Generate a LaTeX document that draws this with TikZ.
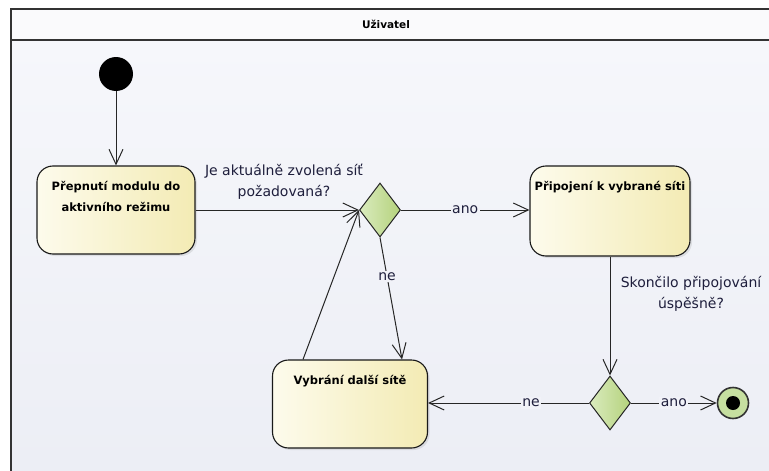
\documentclass[tikz,border=0pt]{standalone}
\usepackage{fontspec}
\setmainfont{DejaVu Sans}
\usetikzlibrary{arrows.meta,positioning,shapes.geometric,shadows}
\definecolor{laneTop}{HTML}{F6F7FB}
\definecolor{laneBot}{HTML}{ECEEF5}
\definecolor{laneHead}{HTML}{FAFAFC}
\definecolor{actL}{HTML}{FDFBEC}
\definecolor{actR}{HTML}{F3EBB4}
\definecolor{decL}{HTML}{DAEBBE}
\definecolor{decR}{HTML}{B4D27C}
\definecolor{finC}{HTML}{C6DFA0}
\definecolor{lblC}{HTML}{1E1E3C}
\tikzset{%
	lane/.style      = {line width=1.8pt, draw=black!80},
	lanetitle/.style = {font=\bfseries\fontsize{10.5}{12}\selectfont},
	initial/.style   = {circle, fill=black, minimum size=34pt, inner sep=0pt}, % start
	final/.style     = {circle, draw=black!80, line width=1.6pt, fill=finC, minimum size=31pt, inner sep=0pt,
		path picture={\fill[black] (path picture bounding box.center) circle (7pt);}}, % end
	action/.style    = {draw=black!90, line width=1.1pt, rounded corners=16pt, left color=actL, right color=actR,
		minimum width=158pt, minimum height=88pt, inner sep=0pt,
		drop shadow={shadow xshift=2pt, shadow yshift=-2pt, opacity=0.18}},
	acttext/.style   = {anchor=north, yshift=-12pt, font=\bfseries\fontsize{11.5}{21}\selectfont, align=center},
	choice/.style    = {draw=black!85, line width=1pt, diamond, left color=decL, right color=decR,
		minimum width=41pt, minimum height=54pt, inner sep=0pt},
	guard/.style     = {text=lblC, font=\fontsize{14}{21}\selectfont, align=center},
	edgelbl/.style   = {fill=laneBot!50!laneTop, text=lblC, font=\fontsize{14}{16}\selectfont, inner sep=1.5pt},
	flow/.style      = {line width=1pt, draw=black!85, ->},
}

\begin{document}
\begin{tikzpicture}[x=1pt,y=-1pt,>={Straight Barb[length=15pt,width=14pt]}]
	\useasboundingbox (0,0) rectangle (769,471);
	% swimlane
	\fill[white] (0,0) rectangle (769,471);
	\fill[laneHead] (11,9) rectangle (769,40);
	\shade[top color=laneTop, bottom color=laneBot] (11,40) rectangle (769,471);
	\draw[lane] (769,9) -- (11,9) -- (11,471);
	\draw[lane] (11,40) -- (769,40);
	\node[lanetitle] (lane) at (386,24) {Uživatel};
	
	\node[initial] (start) at (116,74) {};
	\node[action, label={[acttext, name=t1]north:Přepnutí modulu do\\aktivního režimu}] (prepnuti) at (116,210) {};
	\node[choice] (d1) at (380,210) {};
	\node[action, minimum width=160pt, minimum height=90pt, label={[acttext, name=t2]north:Připojení k vybrané síti}] (pripojeni) at (610,211) {};
	\node[choice] (d2) at (610,403) {};
	\node[action, minimum width=155pt, label={[acttext, name=t3]north:Vybrání další sítě}] (vybrani) at (350,404) {};
	\node[final] (end) at (733,403) {};
	
	\node[guard] (q1) at (284,182) {Je aktuálně zvolená síť\\požadovaná?};
	\node[guard] (q2) at (691,294) {Skončilo připojování\\úspěšně?};
	
	\draw[flow] (start) -- (prepnuti);
	\draw[flow] (prepnuti.east |- d1.west) -- (d1.west);
	\draw[flow] (d1.east) -- node[edgelbl] {ano} (pripojeni.west |- d1.east);
	\draw[flow] (pripojeni.south -| d2.north) -- (d2.north);
	\draw[flow] (d2.west) -- node[edgelbl, pos=0.36] {ne} (vybrani.east |- d2.west);
	\draw[flow] (d2.east) -- node[edgelbl] {ano} (end);
	\draw[flow] (d1.south) -- node[edgelbl, pos=0.32] {ne} ([xshift=52pt]vybrani.north);
	\draw[flow] ([xshift=-47pt]vybrani.north) -- (d1.west);
\end{tikzpicture}
\end{document}
